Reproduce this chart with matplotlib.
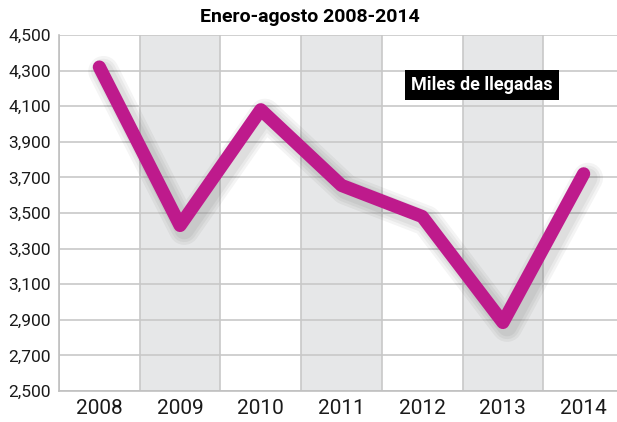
import matplotlib
matplotlib.use("Agg")
import matplotlib.pyplot as plt
import matplotlib.patheffects as pe
from matplotlib import font_manager

# datos (miles de llegadas, enero-agosto)
anios = ["2008", "2009", "2010", "2011", "2012", "2013", "2014"]
llegadas = [4320, 3430, 4080, 3655, 3480, 2885, 3720]
sombreados = ["2009", "2011", "2013"]
yticks = [2500, 2700, 2900, 3100, 3300, 3500, 3700, 3900, 4100, 4300, 4500]

titulo = "Enero-agosto 2008-2014"
leyenda = "Miles de llegadas"

nombres = {f.name for f in font_manager.fontManager.ttflist}
fuente = "Liberation Sans Narrow" if "Liberation Sans Narrow" in nombres else "Roboto"
plt.rcParams['font.family'] = [fuente, 'DejaVu Sans']

fig = plt.figure(figsize=(6.17, 4.22), dpi=100)
W, H = 617, 422
# el área de trazado se sale por la derecha, como en el original
ax = fig.add_axes([59 / W, 31 / H, 565 / W, 356 / H])

x = list(range(len(anios)))
for i, a in enumerate(anios):
    if a in sombreados:
        ax.axvspan(i - 0.5, i + 0.5, color='#e6e7e8', zorder=0, lw=0)

ax.plot(x, llegadas, color='#be1a8c', lw=9.5, solid_capstyle='round',
        solid_joinstyle='round', zorder=3,
        path_effects=[pe.Stroke(offset=(3, -3), linewidth=w, foreground='black', alpha=0.045)
                      for w in (22, 18, 14)] + [pe.Normal()])

ax.set_xlim(-0.5, 6.5)
ax.set_ylim(2500, 4500)
ax.set_xticks(x)
ax.set_xticklabels(anios)
ax.set_yticks(yticks)
ax.set_yticklabels([f"{v:,}" for v in yticks])
ax.tick_params(axis='x', length=0, labelsize=15, pad=6, colors='#1a1a1a')
ax.tick_params(axis='y', length=0, labelsize=12.5, pad=6, colors='#1a1a1a')

ax.set_xticks([i - 0.5 for i in x], minor=True)
ax.tick_params(which='minor', length=0)
ax.grid(True, axis='y', color='#c8c8c8', lw=1.2, zorder=1)
ax.grid(True, axis='x', which='minor', color='#c8c8c8', lw=1.2, zorder=1)
ax.set_axisbelow(True)
for s in ['top', 'right']:
    ax.spines[s].set_visible(False)
for s in ['left', 'bottom']:
    ax.spines[s].set_color('#c0c0c0')
    ax.spines[s].set_linewidth(1.2)

fig.text(310 / W, 1 - 17 / H, titulo, ha='center', va='center',
         fontsize=14, fontweight='bold', color='black')

ax.text(4.74, 4220, leyenda, ha='center', va='center', fontsize=13,
        fontweight='bold', color='white', zorder=5,
        bbox=dict(boxstyle='square,pad=0.35', fc='black', ec='none'))

fig.savefig("out.png", dpi=100)
